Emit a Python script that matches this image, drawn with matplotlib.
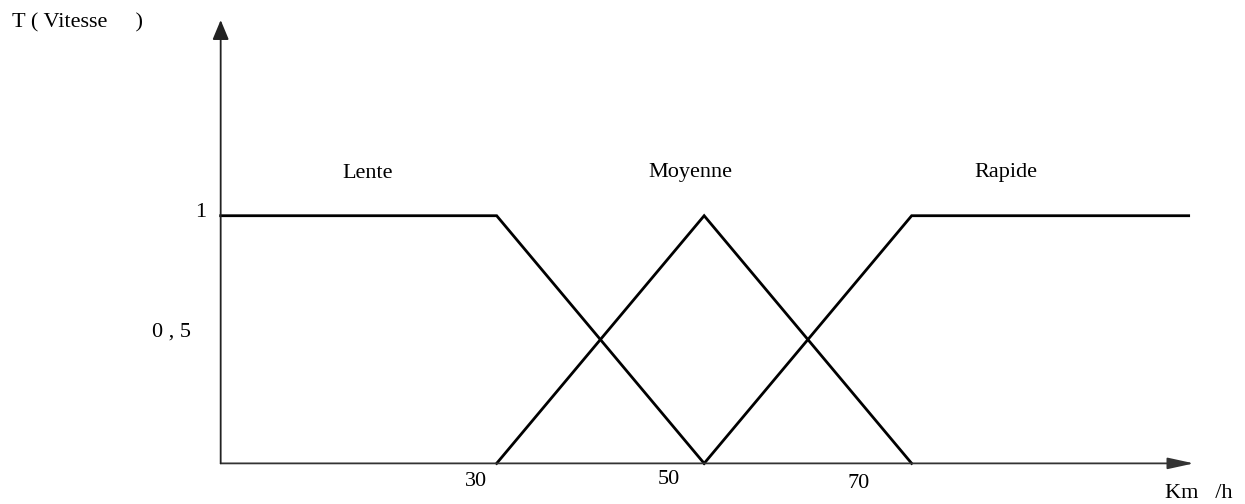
import numpy as np
import matplotlib
matplotlib.use("Agg")
import matplotlib.pyplot as plt

# membership functions of the speed (Km/h)
x_lente = [3.4, 30, 50]
y_lente = [1, 1, 0]
x_moyenne = [30, 50, 70]
y_moyenne = [0, 1, 0]
x_rapide = [50, 70, 96.7]
y_rapide = [0, 1, 1]

labels = ["Lente", "Moyenne", "Rapide"]
tick_labels = ["30", "50", "70"]

W, H = 1245, 504
fig = plt.figure(figsize=(W / 100, H / 100), dpi=100)
ax = fig.add_axes([0, 0, 1, 1])
ax.set_xlim(-17.87, 102.13)
ax.set_ylim(-0.164, 1.871)
ax.axis("off")

plt.rcParams["font.family"] = ["Liberation Serif", "DejaVu Serif"]
fs = 16


def px(x, y):
    # pixel position -> figure fraction
    return x / W, 1 - y / H


# axes with arrows
ax.annotate("", xy=(97.2, 0), xytext=(3.4, 0),
            arrowprops=dict(arrowstyle="-|>,head_length=1.6,head_width=0.35",
                            color="#333333", lw=1.3, shrinkA=0, shrinkB=0))
ax.annotate("", xy=(3.4, 1.79), xytext=(3.4, 0),
            arrowprops=dict(arrowstyle="-|>,head_length=1.2,head_width=0.5",
                            color="#222222", lw=1.3, shrinkA=0, shrinkB=0))

for xs, ys in [(x_lente, y_lente), (x_moyenne, y_moyenne), (x_rapide, y_rapide)]:
    ax.plot(xs, ys, color="black", lw=2, solid_joinstyle="miter")

# text
fig.text(*px(12, 23), "T ( Vitesse     )", fontsize=fs, ha="left", va="center")
for lab, xp in zip(labels, [368, 690, 1006]):
    fig.text(*px(xp, 173), lab, fontsize=fs, ha="center", va="center")
fig.text(*px(201, 212), "1", fontsize=fs, ha="center", va="center")
fig.text(*px(171, 332), "0 , 5", fontsize=fs, ha="center", va="center")
for lab, xp, yp in zip(tick_labels, [476, 669, 859], [482, 479, 483]):
    fig.text(*px(xp, yp), lab, fontsize=fs, ha="center", va="center")
fig.text(*px(1199, 494), "Km   /h", fontsize=fs, ha="center", va="center")

plt.savefig("out.png", dpi=100)
